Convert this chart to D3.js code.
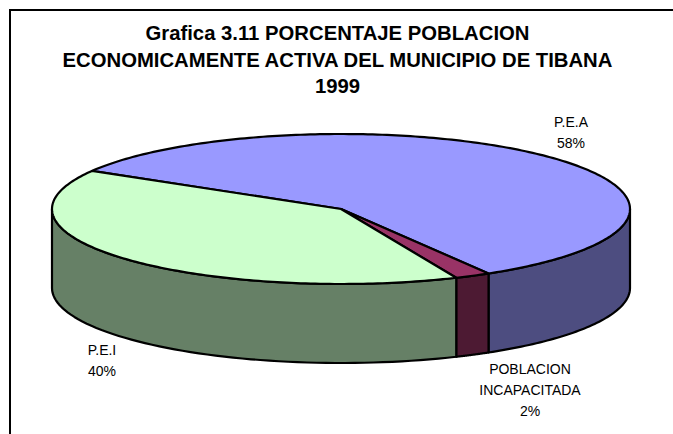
<!DOCTYPE html>
<html><head><meta charset="utf-8">
<script src="https://cdn.jsdelivr.net/npm/d3@7"></script>
<style>html,body{margin:0;padding:0;background:#fff}svg{display:block}text{font-family:"Liberation Sans",Arial,sans-serif;fill:#000}</style>
</head><body><div id="c"></div>
<script>
const categories=["P.E.A","POBLACION INCAPACITADA","P.E.I"];
const values=[58,2,40];
const topColors=["#9999FF","#993366","#CCFFCC"];
const sideColors=["#4D4D80","#4D1A33","#668066"];
const titleLines=["Grafica 3.11 PORCENTAJE POBLACION","ECONOMICAMENTE ACTIVA DEL MUNICIPIO DE TIBANA","1999"];
const labelLines=[["P.E.A","58%"],["POBLACION","INCAPACITADA","2%"],["P.E.I","40%"]];
const labelPos=[[571,127],[530,374],[102,355]];

const W=673,H=434,cx=341,cy=209,rx=289,ry=75,depth=79,start=300.5*Math.PI/180;
const svg=d3.select("#c").append("svg").attr("width",W).attr("height",H);
svg.append("rect").attr("x",10).attr("y",10).attr("width",W+20).attr("height",H+20)
  .attr("fill","#fff").attr("stroke","#000").attr("stroke-width",2);

titleLines.forEach((t,i)=>svg.append("text").attr("x",337.5).attr("y",40+i*26.5)
  .attr("text-anchor","middle").attr("font-size",20.3).attr("font-weight","bold").text(t));

const arcs=d3.pie().sort(null).startAngle(start).endAngle(start+2*Math.PI)(values);
const px=d3.scaleLinear().domain([-1,1]).range([cx-rx,cx+rx]);
const py=d3.scaleLinear().domain([-1,1]).range([cy-ry,cy+ry]);
const line=d3.line();
const rim=(a,dy)=>[px(Math.sin(a)),py(-Math.cos(a))+dy];

const frontA=Math.PI/2,frontB=3*Math.PI/2;
arcs.forEach((d,i)=>{
  const ranges=[[d.startAngle,d.endAngle],[d.startAngle-2*Math.PI,d.endAngle-2*Math.PI]];
  ranges.forEach(([s,e])=>{
    const a0=Math.max(s,frontA),a1=Math.min(e,frontB);
    if(a1<=a0)return;
    const angs=d3.range(0,61).map(k=>a0+(a1-a0)*k/60);
    const pts=angs.map(a=>rim(a,0)).concat(angs.slice().reverse().map(a=>rim(a,depth)));
    svg.append("path").attr("d",line(pts)+"Z").attr("fill",sideColors[i])
      .attr("stroke","#000").attr("stroke-width",2.2).attr("stroke-linejoin","round");
  });
});
arcs.forEach((d,i)=>{
  const n=Math.max(4,Math.round((d.endAngle-d.startAngle)*60));
  const pts=[[cx,cy]].concat(d3.range(0,n+1).map(k=>rim(d.startAngle+(d.endAngle-d.startAngle)*k/n,0)));
  svg.append("path").attr("d",line(pts)+"Z").attr("fill",topColors[i])
    .attr("stroke","#000").attr("stroke-width",2.2).attr("stroke-linejoin","round");
});
labelLines.forEach((ls,i)=>ls.forEach((t,j)=>svg.append("text")
  .attr("x",labelPos[i][0]).attr("y",labelPos[i][1]+j*21)
  .attr("text-anchor","middle").attr("font-size",14).text(t)));
</script></body></html>
